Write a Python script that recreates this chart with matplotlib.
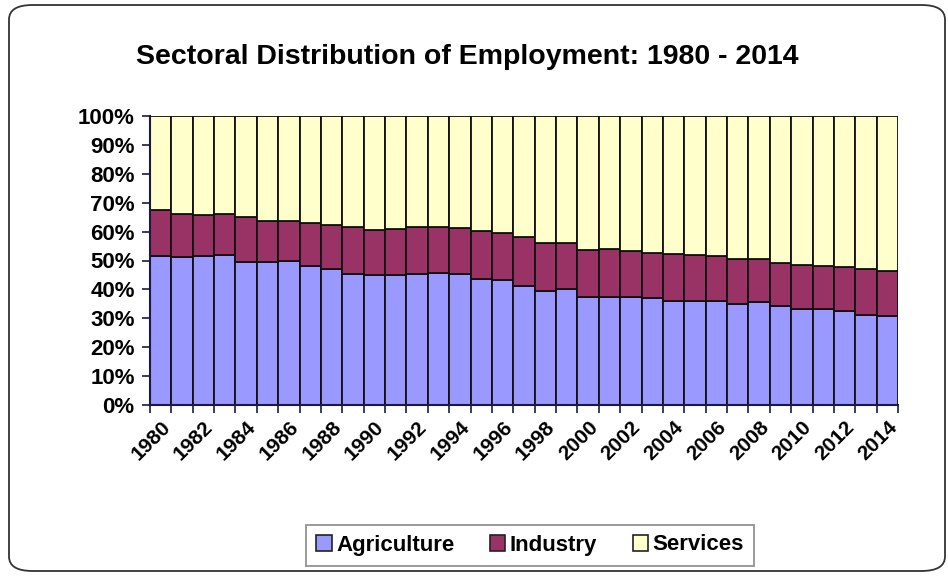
# -*- coding: utf-8 -*-
import numpy as np
import matplotlib
matplotlib.use("Agg")
import matplotlib.pyplot as plt
from matplotlib.patches import FancyBboxPatch, Patch
from matplotlib.ticker import FuncFormatter

plt.rcParams['font.family'] = ['Liberation Sans', 'DejaVu Sans']

years = list(range(1980, 2015))

# share of employment (%)
agriculture = [51.6, 51.1, 51.6, 51.8, 49.5, 49.5, 49.9, 48.1, 47.2, 45.3,
               44.9, 45.0, 45.3, 45.8, 45.3, 43.7, 43.3, 41.2, 39.3, 40.2,
               37.3, 37.3, 37.3, 37.0, 36.1, 36.1, 36.1, 34.9, 35.6, 34.3,
               33.1, 33.1, 32.4, 31.2, 30.8]
industry = [15.9, 15.0, 14.0, 14.3, 15.4, 14.3, 13.9, 14.8, 15.2, 16.2,
            15.7, 16.0, 16.4, 15.9, 15.9, 16.4, 16.3, 16.8, 16.6, 15.7,
            16.3, 16.6, 15.9, 15.7, 16.1, 15.9, 15.5, 15.7, 15.0, 14.9,
            15.4, 15.0, 15.2, 15.8, 15.7]
services = [32.5, 33.9, 34.4, 33.9, 35.1, 36.2, 36.2, 37.1, 37.6, 38.5,
            39.4, 39.0, 38.3, 38.3, 38.8, 39.9, 40.4, 42.0, 44.1, 44.1,
            46.4, 46.1, 46.8, 47.3, 47.8, 48.0, 48.4, 49.4, 49.4, 50.8,
            51.5, 51.9, 52.4, 53.0, 53.5]

colors = ['#9999FF', '#993366', '#FFFFCC']
labels = ['Agriculture', 'Industry', 'Services']

fig = plt.figure(figsize=(9.48, 5.8), dpi=100)
fig.patch.set_facecolor('white')

# rounded frame around the whole chart
frame = FancyBboxPatch((9 / 948, 9 / 580), 936 / 948, 566 / 580,
                       boxstyle="round,pad=0,rounding_size=0.025",
                       transform=fig.transFigure, facecolor='none',
                       edgecolor='#333333', linewidth=1.3)
fig.patches.append(frame)

ax = fig.add_axes([150 / 948, 1 - 405 / 580, 748 / 948, 289 / 580])

index = np.arange(len(years))
agri = np.array(agriculture)
ind = np.array(industry)
serv = np.array(services)

bw = 1.0
ax.bar(index, agri, bw, color=colors[0], edgecolor='#111111', linewidth=1.3)
ax.bar(index, ind, bw, bottom=agri, color=colors[1], edgecolor='#111111', linewidth=1.3)
ax.bar(index, serv, bw, bottom=agri + ind, color=colors[2], edgecolor='#111111', linewidth=1.3)

ax.set_xlim(-0.5, len(years) - 0.5)
ax.set_ylim(0, 100)
ax.set_yticks(np.arange(0, 101, 10))
ax.yaxis.set_major_formatter(FuncFormatter(lambda v, p: '%d%%' % v))
for t in ax.get_yticklabels():
    t.set_fontweight('bold')
    t.set_fontsize(16)
ax.tick_params(axis='y', direction='out', length=6, width=1.2, color='#1a1a40', pad=5)

# ticks between categories, labels every other year
ax.set_xticks(index[::2])
ax.set_xticklabels([str(y) for y in years[::2]], rotation=45, ha='right',
                   rotation_mode='anchor', fontsize=15, fontweight='bold')
ax.set_xticks(np.arange(-0.5, len(years), 1), minor=True)
ax.tick_params(axis='x', which='major', length=0, pad=9)
ax.tick_params(axis='x', which='minor', direction='out', length=6, width=1.2, color='#1a1a40')

for s in ['top', 'right']:
    ax.spines[s].set_visible(False)
for s in ['left', 'bottom']:
    ax.spines[s].set_color('#1a1a40')
    ax.spines[s].set_linewidth(1.5)

fig.text(0.493, 1 - 57 / 580, 'Sectoral Distribution of Employment: 1980 - 2014',
         ha='center', va='center', fontsize=20.5, fontweight='bold')

handles = [Patch(facecolor=c, edgecolor='#222222', linewidth=1.2) for c in colors]
leg = fig.legend(handles, labels, loc='center', bbox_to_anchor=(530 / 948, 1 - 545 / 580),
                 ncol=3, prop={'weight': 'bold', 'size': 16}, frameon=True, fancybox=False,
                 handlelength=0.7, handleheight=0.7, handletextpad=0.2, columnspacing=1.6,
                 borderpad=0.45)
leg.get_frame().set_edgecolor('#777777')
leg.get_frame().set_linewidth(1.3)

fig.savefig('out.png', dpi=100, facecolor='white')
